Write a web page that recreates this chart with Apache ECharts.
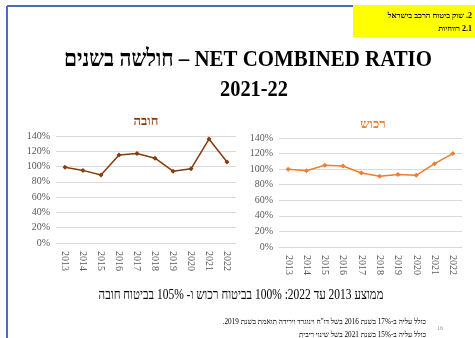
<!DOCTYPE html>
<html>
<head>
<meta charset="utf-8">
<script src="https://cdn.jsdelivr.net/npm/echarts@6/dist/echarts.min.js"></script>
<style>
html,body{margin:0;padding:0;background:#fff;}
#c{width:475px;height:338px;}
</style>
</head>
<body>
<div id="c"></div>
<script>
// ---- data ----
const years = ['2013','2014','2015','2016','2017','2018','2019','2020','2021','2022'];
const compulsory = [99, 95, 89, 115, 117, 111, 94, 97, 136, 106]; // חובה
const property = [100, 98, 105, 104, 95, 91, 93, 92, 107, 120];   // רכוש
const yMin = 0, yMax = 140, yStep = 20;
const leftTitle = 'חובה';
const rightTitle = 'רכוש';
const mainTitle1 = 'חולשה בשנים – NET COMBINED RATIO';
const mainTitle2 = '2021-22';
const summary = 'ממוצע 2013 עד 2022: 100% בביטוח רכוש ו- 105% בביטוח חובה';
const note1 = 'כולל עליה ב-17% בשנת 2016 בשל דו"ח וינוגרד וירידה תואמת בשנת 2019.';
const note2 = 'כולל עליה ב-15% בשנת 2021 בשל שינוי ריבית';
const header1 = '2. שוק ביטוח הרכב בישראל';
const header2 = '2.1 רווחיות';
const pageNo = '16';

const RLE = '\u202B', PDF = '\u202C';
const rtl = s => RLE + s + PDF;
const serif = '"Liberation Serif", "Times New Roman", serif';
const gridColor = '#d9d9d9';
const labelColor = '#595959';

function yAxis(idx) {
  return {
    type: 'value', gridIndex: idx, min: yMin, max: yMax, interval: yStep,
    axisLine: {show: false}, axisTick: {show: false},
    splitLine: {lineStyle: {color: gridColor, width: 1}},
    axisLabel: {formatter: '{value}%', color: labelColor, fontFamily: serif, fontSize: 10, margin: 6}
  };
}
function xAxis(idx) {
  return {
    type: 'category', gridIndex: idx, data: years, boundaryGap: true,
    axisLine: {show: true, lineStyle: {color: gridColor}}, axisTick: {show: false},
    axisLabel: {rotate: -90, color: labelColor, fontFamily: serif, fontSize: 10, margin: 8}
  };
}

const chart = echarts.init(document.getElementById('c'), null, {renderer: 'canvas'});
chart.setOption({
  animation: false,
  backgroundColor: '#fff',
  title: [
    {text: leftTitle, left: 141, top: 110, textAlign: 'center',
     textStyle: {color: '#843C0C', fontFamily: serif, fontSize: 13, fontWeight: 'bold'}},
    {text: rightTitle, left: 368, top: 113, textAlign: 'center',
     textStyle: {color: '#ED7D31', fontFamily: serif, fontSize: 13, fontWeight: 'bold'}}
  ],
  grid: [
    {left: 56, top: 136, width: 180, height: 107},
    {left: 279, top: 138, width: 183, height: 109}
  ],
  xAxis: [xAxis(0), xAxis(1)],
  yAxis: [yAxis(0), yAxis(1)],
  series: [
    {type: 'line', xAxisIndex: 0, yAxisIndex: 0, data: compulsory,
     symbol: 'diamond', symbolSize: 5,
     lineStyle: {color: '#843C0C', width: 1.5}, itemStyle: {color: '#843C0C'}},
    {type: 'line', xAxisIndex: 1, yAxisIndex: 1, data: property,
     symbol: 'diamond', symbolSize: 5,
     lineStyle: {color: '#ED7D31', width: 1.5}, itemStyle: {color: '#ED7D31'}}
  ],
  graphic: [
    // slide frame
    {type: 'line', shape: {x1: 7, y1: 6, x2: 353, y2: 6}, style: {stroke: '#4E6DB3', lineWidth: 2}},
    {type: 'line', shape: {x1: 7, y1: 6, x2: 7, y2: 338}, style: {stroke: '#4E6DB3', lineWidth: 2}},
    // yellow header box
    {type: 'rect', shape: {x: 353, y: 5, width: 122, height: 32}, style: {fill: '#FFFF00'}},
    {type: 'text', x: 472, y: 16, style: {text: rtl(header1), fill: '#000', font: 'bold 8px ' + serif, textAlign: 'right', textVerticalAlign: 'middle'}},
    {type: 'text', x: 472, y: 29, style: {text: rtl(header2), fill: '#000', font: 'bold 8px ' + serif, textAlign: 'right', textVerticalAlign: 'middle'}},
    // main title
    {type: 'text', x: 248, y: 60, scaleX: 0.87, style: {text: mainTitle1, fill: '#000', font: 'bold 24px ' + serif, textAlign: 'center', textVerticalAlign: 'middle'}},
    {type: 'text', x: 254, y: 90, scaleX: 0.85, style: {text: mainTitle2, fill: '#000', font: 'bold 24px ' + serif, textAlign: 'center', textVerticalAlign: 'middle'}},
    // summary
    {type: 'text', x: 241, y: 295, scaleX: 0.82, style: {text: rtl(summary), fill: '#000', font: '14px ' + serif, textAlign: 'center', textVerticalAlign: 'middle'}},
    // footnotes
    {type: 'text', x: 426, y: 322, scaleX: 0.9, style: {text: rtl(note1), fill: '#000', font: '8px ' + serif, textAlign: 'right', textVerticalAlign: 'middle'}},
    {type: 'text', x: 426, y: 335, scaleX: 0.9, style: {text: rtl(note2), fill: '#000', font: '8px ' + serif, textAlign: 'right', textVerticalAlign: 'middle'}},
    {type: 'text', x: 440, y: 328, style: {text: pageNo, fill: '#999', font: '6px ' + serif, textAlign: 'center', textVerticalAlign: 'middle'}}
  ]
});
</script>
</body>
</html>
